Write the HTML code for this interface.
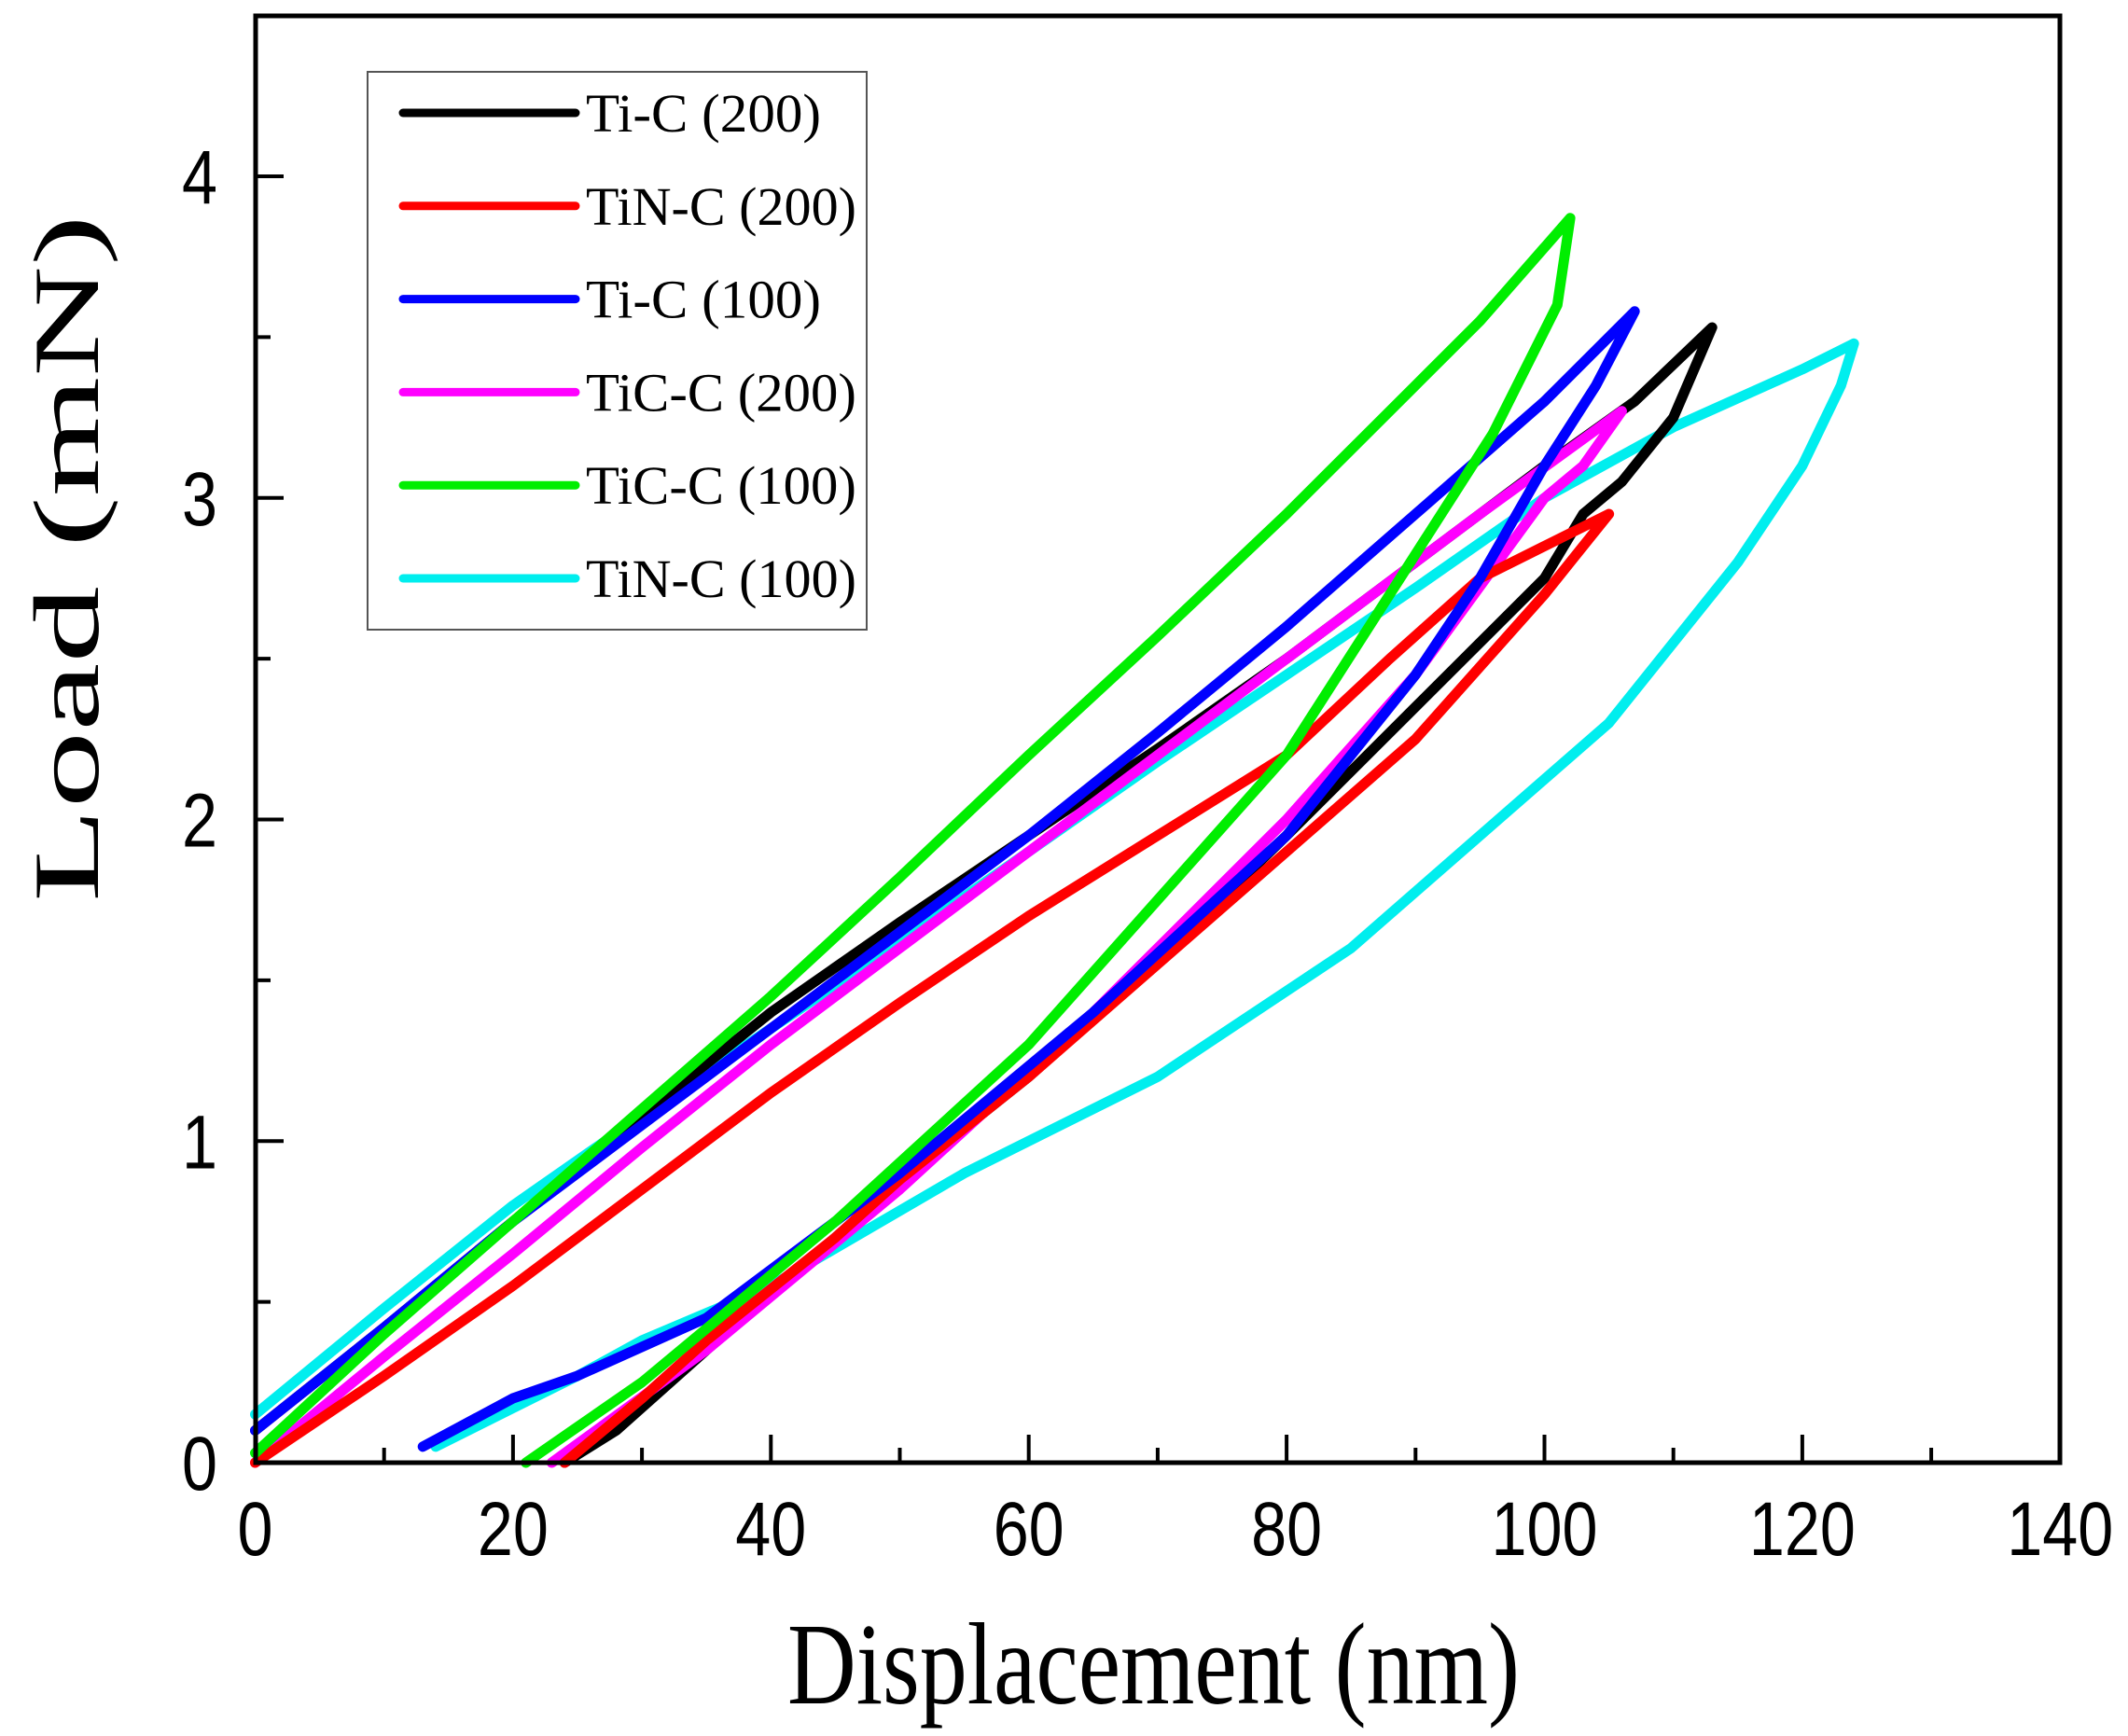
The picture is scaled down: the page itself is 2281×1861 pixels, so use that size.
<!DOCTYPE html>
<html><head><meta charset="utf-8"><style>
html,body{margin:0;padding:0;background:#fff}
svg{display:block}
</style></head><body>
<svg id="s" width="2281" height="1861" viewBox="0 0 2281 1861" xmlns="http://www.w3.org/2000/svg">
<rect width="2281" height="1861" fill="#fff"/>
<g id="curves" fill="none" stroke-width="11" stroke-linejoin="round" stroke-linecap="round"></g>
<rect x="274" y="17" width="1934" height="1551" fill="none" stroke="#000" stroke-width="5"/>
<g id="ticks" stroke="#000" stroke-width="4"></g>
<g font-family="Liberation Sans, sans-serif" font-size="82" fill="#000" id="tl"></g>
<text x="844" y="1826" font-family="Liberation Serif, serif" font-size="125" textLength="785" lengthAdjust="spacingAndGlyphs">Displacement (nm)</text>
<text transform="translate(105,967) rotate(-90)" x="0" y="0" font-family="Liberation Serif, serif" font-size="100" textLength="737" lengthAdjust="spacingAndGlyphs">Load (mN)</text>
<rect x="394" y="77" width="535" height="598" fill="#fff" stroke="#555" stroke-width="2"/>
<g id="leg" font-family="Liberation Serif, serif" font-size="58"></g>
</svg>
<script>
var NS="http://www.w3.org/2000/svg";
function X(n){return 273.5+n*13.82;}
function Y(m){return 1568-m*344.75;}
function el(t,a,p,txt){var e=document.createElementNS(NS,t);for(var k in a)e.setAttribute(k,a[k]);if(txt!==undefined)e.textContent=txt;p.appendChild(e);return e;}
var ticks=document.getElementById('ticks'),tl=document.getElementById('tl');
for(var i=0;i<=14;i++){var x=X(i*10),len=(i%2==0)?30:16;el('line',{x1:x,y1:1568,x2:x,y2:1568-len},ticks);}
for(var i=0;i<=8;i++){var y=Y(i*0.5),len=(i%2==0)?30:16;if(y<20)continue;el('line',{x1:274,y1:y,x2:274+len,y2:y},ticks);}
for(var i=0;i<=7;i++){var s=String(i*20);el('text',{x:X(i*20),y:1667,'text-anchor':'middle',textLength:s.length*38,lengthAdjust:'spacingAndGlyphs'},tl,s);}
for(var i=0;i<=4;i++){el('text',{x:233,y:Y(i)+29,'text-anchor':'end',textLength:38,lengthAdjust:'spacingAndGlyphs'},tl,String(i));}
var data=[
['#000',[[0,0.1],[10,0.42],[20,0.75],[30,1.08],[40,1.4],[50,1.68],[60,1.95],[70,2.22],[80,2.5],[90,2.8],[100,3.1],[107,3.3],[113,3.53],[110,3.25],[106,3.05],[103,2.95],[100,2.75],[90,2.35],[80,1.95],[70,1.56],[60,1.2],[50,0.88],[45,0.7],[35,0.35],[28,0.1],[24,0]]],
['#f00',[[0,0],[10,0.27],[20,0.55],[30,0.85],[40,1.15],[50,1.43],[60,1.7],[70,1.95],[80,2.2],[88,2.5],[95,2.75],[105,2.95],[102,2.8],[100,2.7],[90,2.25],[80,1.9],[70,1.55],[60,1.2],[50,0.88],[45,0.7],[35,0.38],[30,0.2],[24,0]]],
['#00f',[[0,0.1],[10,0.42],[20,0.75],[30,1.05],[40,1.35],[50,1.65],[60,1.95],[70,2.27],[80,2.6],[90,2.95],[100,3.3],[107,3.58],[104,3.35],[100,3.1],[95,2.75],[90,2.45],[80,1.95],[65,1.4],[50,0.9],[35,0.45],[25,0.27],[20,0.2],[13,0.05]]],
['#f0f',[[0,0],[10,0.33],[20,0.65],[30,0.98],[40,1.3],[50,1.6],[60,1.9],[70,2.2],[80,2.5],[90,2.8],[95,2.95],[106,3.27],[103,3.1],[100,3.0],[90,2.45],[80,2.0],[65,1.4],[50,0.85],[35,0.35],[23,0]]],
['#0e0',[[0,0.03],[10,0.4],[20,0.75],[30,1.1],[40,1.45],[50,1.82],[60,2.2],[70,2.57],[80,2.95],[90,3.35],[95,3.55],[102,3.87],[101,3.6],[96,3.2],[88,2.7],[80,2.2],[70,1.75],[60,1.3],[45,0.75],[30,0.25],[21,0]]],
['#0ee',[[0,0.15],[10,0.48],[20,0.8],[30,1.08],[40,1.35],[50,1.62],[60,1.9],[70,2.18],[80,2.45],[90,2.72],[100,3.0],[110,3.22],[120,3.4],[124,3.48],[123,3.35],[120,3.1],[115,2.8],[105,2.3],[95,1.95],[85,1.6],[70,1.2],[55,0.9],[40,0.55],[30,0.38],[25,0.27],[14,0.05]]]
];
var g=document.getElementById('curves');
var order=[5,0,3,1,2,4];
order.forEach(function(k){var d=data[k];var p=d[1].map(function(q,i){return (i?'L':'M')+X(q[0]).toFixed(1)+','+Y(q[1]).toFixed(1);}).join(' ');el('path',{d:p,stroke:d[0]},g);});
var names=['Ti-C (200)','TiN-C (200)','Ti-C (100)','TiC-C (200)','TiC-C (100)','TiN-C (100)'];
var leg=document.getElementById('leg');
for(var i=0;i<6;i++){var y=121+i*99.8;el('line',{x1:432,y1:y,x2:617,y2:y,stroke:data[i][0],'stroke-width':9,'stroke-linecap':'round'},leg);
el('text',{x:628,y:y+20,textLength:(names[i].length==10?252:290),lengthAdjust:'spacingAndGlyphs'},leg,names[i]);}
</script>
</body></html>
